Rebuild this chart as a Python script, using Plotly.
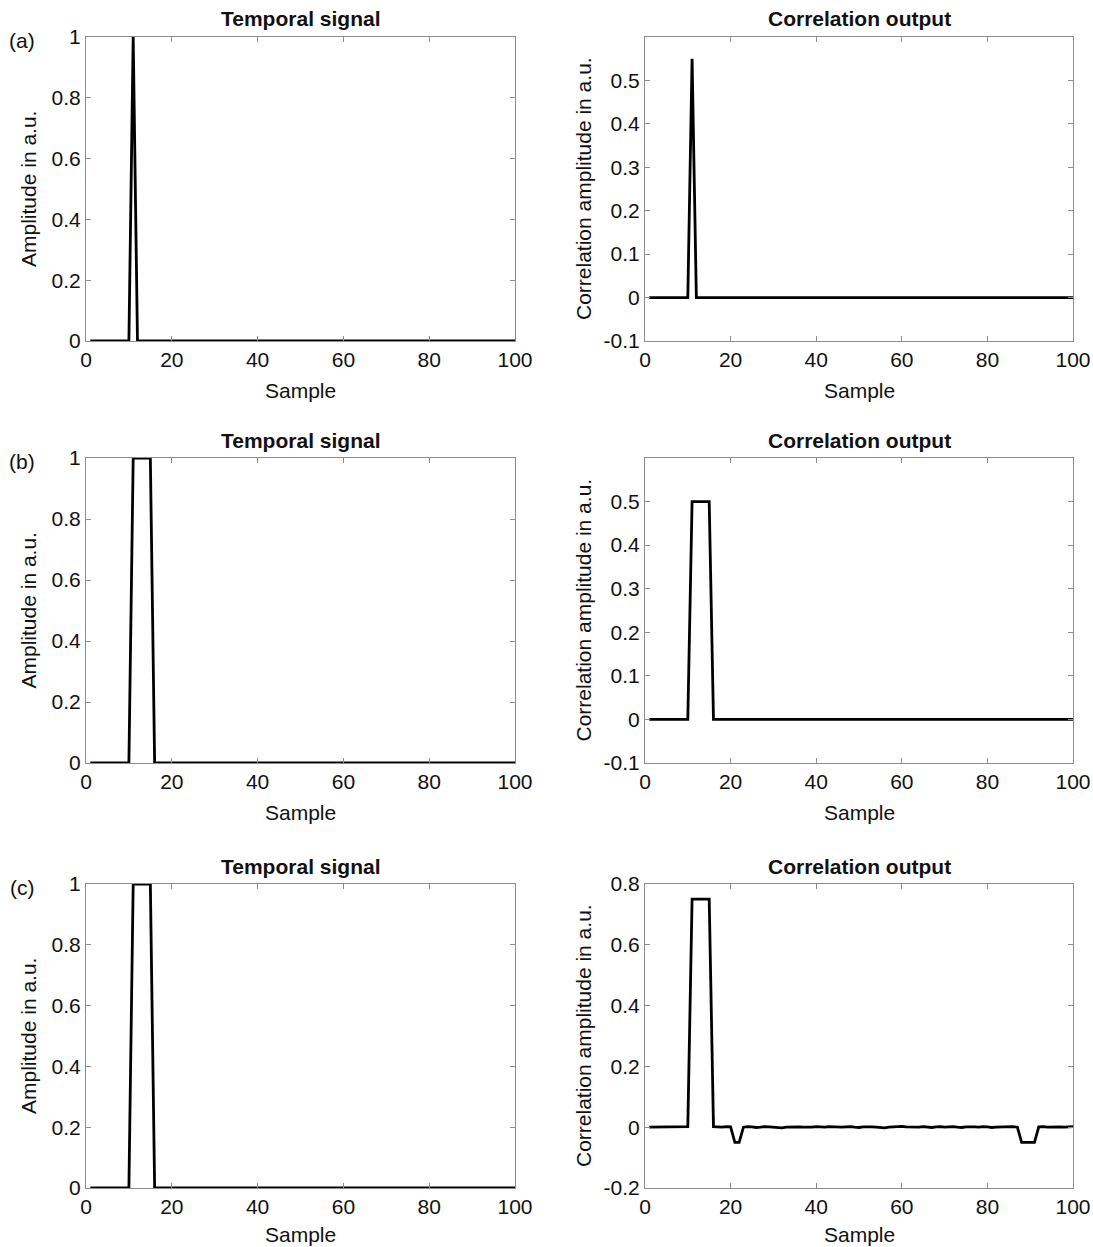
import plotly.graph_objects as go

samples = list(range(1, 101))

temporal_a = [0]*10 + [1] + [0]*89
corr_a = [0]*10 + [0.55] + [0]*89
temporal_b = [0]*10 + [1]*5 + [0]*85
corr_b = [0]*10 + [0.5]*5 + [0]*85
temporal_c = [0]*10 + [1]*5 + [0]*85
corr_c = ([0.0, 0.0, 0.001, 0.0, 0.001, 0.002, 0.001, 0.0, 0.001, 0.002]
          + [0.75]*5
          + [0.002, 0.001, 0.0, 0.002, 0.001]
          + [-0.05, -0.05]
          + [0.0, 0.002, 0.001, -0.001, 0.0, 0.002, 0.001, 0.0, -0.001, -0.002,
             0.0, 0.001, 0.002, 0.001, 0.0, -0.001, 0.0, 0.002, 0.001, 0.0,
             0.002, 0.001, -0.001, 0.0, 0.001, 0.002, 0.0, -0.001, 0.001, 0.002,
             0.001, 0.0, -0.001, -0.002, 0.0, 0.001, 0.002, 0.003, 0.001, 0.0,
             -0.001, 0.0, 0.002, 0.001, -0.001, 0.001, 0.002, 0.0, 0.001, 0.002,
             0.0, -0.001, 0.001, 0.002, 0.001, 0.0, 0.002, 0.001, -0.001, 0.0,
             0.001, 0.0, 0.001, 0.002, 0.0]
          + [-0.05]*4
          + [0.001, 0.002, 0.0, 0.001, 0.002, 0.001, 0.0, 0.001, 0.002])

x_ticks = [0, 20, 40, 60, 80, 100]
left_ticks = [0, 0.2, 0.4, 0.6, 0.8, 1]
right_ticks_ab = [-0.1, 0, 0.1, 0.2, 0.3, 0.4, 0.5]
right_ticks_c = [-0.2, 0, 0.2, 0.4, 0.6, 0.8]

titles_left = "Temporal signal"
titles_right = "Correlation output"
panel_labels = ["(a)", "(b)", "(c)"]

OFF = 0  # body margin removed via post_script
W, H = 1093, 1247
FONT = "Liberation Sans, Arial, Helvetica, sans-serif"
FS = 21

def px_x(p):
    return (p - OFF) / W

def px_y(p):
    return 1 - (p - OFF) / H

left_dom = [px_x(86), px_x(515)]
right_dom = [px_x(645), px_x(1073)]
rows = [(37, 341), (458, 763), (884, 1188)]
xlabel_gap = [49, 49, 46]

fig = go.Figure()

series = [
    (temporal_a, corr_a, [-0.1, 0.6], right_ticks_ab),
    (temporal_b, corr_b, [-0.1, 0.6], right_ticks_ab),
    (temporal_c, corr_c, [-0.2, 0.8], right_ticks_c),
]

axis_common = dict(
    showline=True, mirror="ticks", linecolor="#8c8c8c", linewidth=1,
    ticks="inside", ticklen=5, tickcolor="#8c8c8c", tickwidth=1,
    showgrid=False, zeroline=False,
    tickfont=dict(family=FONT, size=FS, color="#111"),
    automargin=False,
)

annotations = []
for i, (tsig, csig, rrange, rticks) in enumerate(series):
    top, bot = rows[i]
    ydom = [px_y(bot), px_y(top)]
    n = 2 * i + 1
    xa_l, ya_l = f"x{n}", f"y{n}"
    xa_r, ya_r = f"x{n+1}", f"y{n+1}"
    fig.add_trace(go.Scatter(x=samples, y=tsig, mode="lines",
                             line=dict(color="black", width=2.8),
                             xaxis=xa_l, yaxis=ya_l, showlegend=False))
    fig.add_trace(go.Scatter(x=samples, y=csig, mode="lines",
                             line=dict(color="black", width=2.8),
                             xaxis=xa_r, yaxis=ya_r, showlegend=False))
    sfx_l = "" if n == 1 else str(n)
    sfx_r = str(n + 1)
    fig.layout["xaxis" + sfx_l] = dict(axis_common, domain=left_dom, anchor=ya_l,
                                       range=[0, 100], tickvals=x_ticks)
    fig.layout["yaxis" + sfx_l] = dict(axis_common, domain=ydom, anchor=xa_l,
                                       range=[0, 1], tickvals=left_ticks,
                                       ticktext=[f"{v:g}" for v in left_ticks])
    fig.layout["xaxis" + sfx_r] = dict(axis_common, domain=right_dom, anchor=ya_r,
                                       range=[0, 100], tickvals=x_ticks)
    fig.layout["yaxis" + sfx_r] = dict(axis_common, domain=ydom, anchor=xa_r,
                                       range=rrange, tickvals=rticks,
                                       ticktext=[f"{v:g}" for v in rticks])
    # titles
    annotations.append(dict(text=f"<b>{titles_left}</b>", x=(left_dom[0]+left_dom[1])/2,
                            y=px_y(top - 18), xref="paper", yref="paper",
                            xanchor="center", yanchor="middle", showarrow=False,
                            font=dict(family=FONT, size=FS, color="#111")))
    annotations.append(dict(text=f"<b>{titles_right}</b>", x=(right_dom[0]+right_dom[1])/2,
                            y=px_y(top - 18), xref="paper", yref="paper",
                            xanchor="center", yanchor="middle", showarrow=False,
                            font=dict(family=FONT, size=FS, color="#111")))
    # x labels
    for dom in (left_dom, right_dom):
        annotations.append(dict(text="Sample", x=(dom[0]+dom[1])/2,
                                y=px_y(bot + xlabel_gap[i]),
                                xref="paper", yref="paper", xanchor="center",
                                yanchor="middle", showarrow=False,
                                font=dict(family=FONT, size=FS, color="#111")))
    # y labels
    annotations.append(dict(text="Amplitude in a.u.", x=px_x(28), y=px_y((top+bot)/2),
                            xref="paper", yref="paper", xanchor="center", yanchor="middle",
                            textangle=-90, showarrow=False,
                            font=dict(family=FONT, size=FS, color="#111")))
    annotations.append(dict(text="Correlation amplitude in a.u.", x=px_x(583),
                            y=px_y((top+bot)/2), xref="paper", yref="paper",
                            xanchor="center", yanchor="middle", textangle=-90,
                            showarrow=False, font=dict(family=FONT, size=FS, color="#111")))
    # panel label
    annotations.append(dict(text=panel_labels[i], x=px_x(22), y=px_y(top + 3),
                            xref="paper", yref="paper", xanchor="center", yanchor="middle",
                            showarrow=False, font=dict(family=FONT, size=FS, color="#111")))

fig.update_layout(
    width=W, height=H,
    margin=dict(l=0, r=0, t=0, b=0),
    paper_bgcolor="white", plot_bgcolor="white",
    annotations=annotations,
    font=dict(family=FONT),
)

fig.write_html(
    "out.html",
    config={"displayModeBar": False},
    post_script="document.body.style.margin='0';document.body.style.overflow='hidden';",
)
